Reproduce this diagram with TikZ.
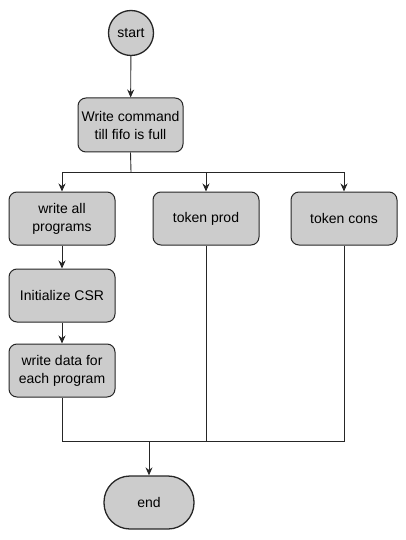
\documentclass[tikz,border=0pt]{standalone}
\usepackage{fontspec}
\setmainfont{Liberation Sans}
\usetikzlibrary{arrows.meta}
\begin{document}
\begin{tikzpicture}[x=1pt,y=-1pt,
  box/.style={draw=black!85,fill=black!20,line width=1pt,rounded corners=8pt,
    minimum width=106pt,minimum height=53pt,align=center,inner sep=2pt,
    font=\fontsize{14}{18}\selectfont},
  conn/.style={draw=black!85,line width=0.9pt},
  arr/.style={conn,-{Stealth[length=8pt,width=7pt]}}]
\useasboundingbox (0,0) rectangle (406,540);
\node[box,circle,minimum size=45pt,rounded corners=0pt,line width=1.3pt] (start) at (131,33) {start};
\node[box,minimum width=105pt,minimum height=54pt] (write) at (130.5,125) {Write command\\till fifo is full};
\node[box] (wap) at (62,218.5) {write all\\programs};
\node[box] (tp) at (206,218.5) {token prod};
\node[box] (tc) at (344,218.5) {token cons};
\node[box] (csr) at (62,295.5) {Initialize CSR};
\node[box] (wd) at (62,370.5) {write data for\\each program};
\node[box,minimum width=90pt,rounded corners=26pt,line width=1.3pt] (end) at (149,502.5) {end};
\coordinate (j1) at (131,172);
\coordinate (j2) at (149,441);
\draw[arr] (start) -- (write);
\draw[conn] (write.south) -- (j1);
\draw[arr] (j1) -| (wap.north);
\draw[arr] (j1) -| (tp.north);
\draw[arr] (j1) -| (tc.north);
\draw[arr] (wap) -- (csr);
\draw[arr] (csr) -- (wd);
\draw[conn] (wd.south) |- (j2);
\draw[conn] (tp.south) |- (j2);
\draw[conn] (tc.south) |- (j2);
\draw[arr] (j2) -- (end.north);
\end{tikzpicture}
\end{document}
